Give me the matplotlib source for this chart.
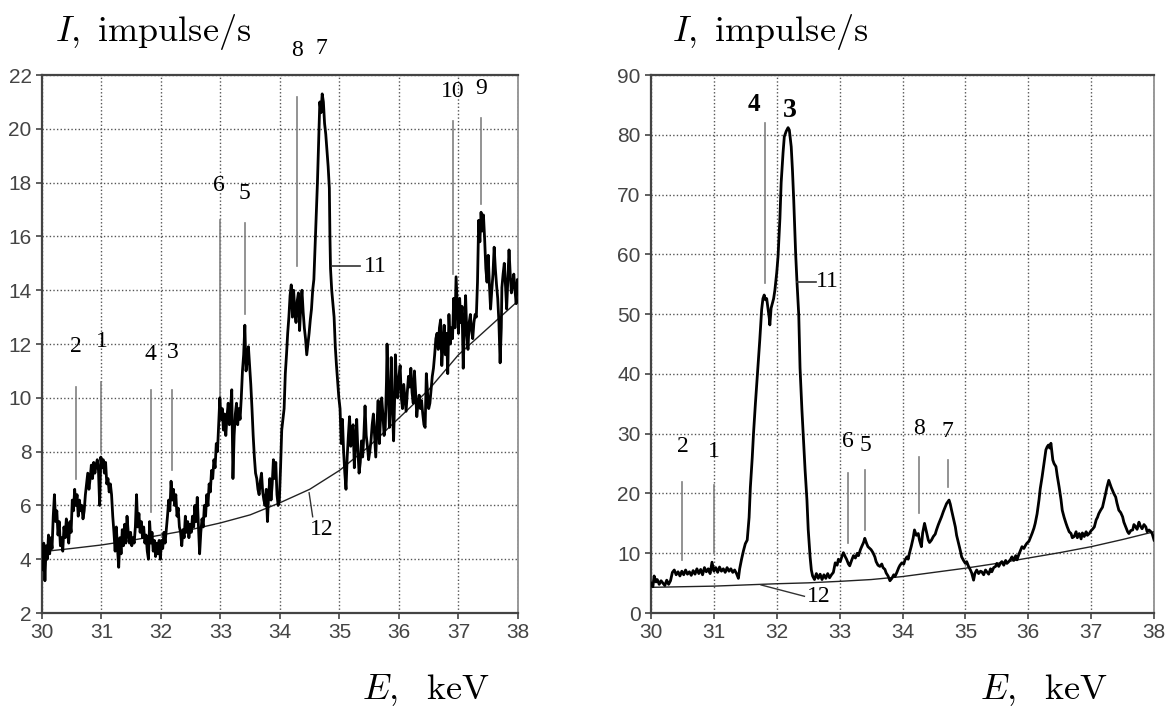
import numpy as np
import matplotlib.pyplot as plt

plt.rcParams['font.family'] = ['Liberation Sans Narrow', 'Liberation Sans', 'DejaVu Sans']
plt.rcParams['mathtext.fontset'] = 'cm'

# left spectrum (E keV, I impulse/s)
left_spec = [
    (30.00, 4.3), (30.02, 3.6), (30.03, 4.6), (30.05, 3.2), (30.07, 4.5), (30.09, 4.0), (30.11, 4.9), (30.13, 4.2),
    (30.15, 4.8), (30.17, 4.4), (30.19, 5.6), (30.21, 6.4), (30.23, 5.4), (30.25, 5.8), (30.27, 4.9), (30.29, 5.4),
    (30.31, 4.5), (30.33, 4.8), (30.35, 4.3), (30.37, 5.2), (30.39, 4.8), (30.41, 5.5), (30.43, 5.0), (30.45, 4.6),
    (30.47, 5.4), (30.49, 5.0), (30.51, 6.2), (30.53, 5.8), (30.55, 6.6), (30.57, 6.0), (30.59, 6.4), (30.61, 5.6),
    (30.63, 6.2), (30.65, 5.8), (30.67, 6.0), (30.69, 5.5), (30.71, 5.8), (30.73, 6.4), (30.75, 6.8), (30.77, 7.2),
    (30.79, 6.6), (30.81, 7.0), (30.83, 7.5), (30.85, 7.0), (30.87, 7.6), (30.89, 7.2), (30.91, 7.5), (30.93, 7.7),
    (30.95, 7.3), (30.97, 6.0), (30.99, 7.8), (31.01, 7.4), (31.03, 7.7), (31.05, 7.2), (31.07, 7.6), (31.09, 6.8),
    (31.11, 7.0), (31.13, 6.5), (31.15, 6.8), (31.17, 6.4), (31.19, 5.6), (31.21, 5.0), (31.23, 4.3), (31.25, 5.2),
    (31.27, 4.4), (31.29, 3.7), (31.31, 4.8), (31.33, 4.2), (31.35, 5.1), (31.37, 4.5), (31.39, 5.3), (31.41, 4.6),
    (31.43, 5.6), (31.45, 5.0), (31.47, 4.6), (31.49, 5.0), (31.51, 4.5), (31.53, 4.8), (31.55, 4.6), (31.57, 5.2),
    (31.59, 6.4), (31.61, 5.2), (31.63, 5.7), (31.65, 5.0), (31.67, 5.4), (31.69, 4.8), (31.71, 5.2), (31.73, 4.6),
    (31.75, 4.9), (31.77, 4.3), (31.79, 4.0), (31.81, 5.4), (31.83, 4.6), (31.85, 5.0), (31.87, 4.3), (31.89, 4.7),
    (31.91, 4.1), (31.93, 4.6), (31.95, 4.2), (31.97, 4.7), (31.99, 4.0), (32.01, 4.7), (32.03, 4.4), (32.05, 5.0),
    (32.07, 4.6), (32.09, 5.1), (32.11, 5.6), (32.13, 6.2), (32.15, 5.8), (32.17, 6.9), (32.19, 6.2), (32.21, 6.6),
    (32.23, 6.0), (32.25, 6.4), (32.27, 5.6), (32.29, 5.9), (32.31, 5.2), (32.33, 5.0), (32.35, 4.5), (32.37, 5.1),
    (32.39, 4.8), (32.41, 5.6), (32.43, 5.0), (32.45, 5.4), (32.47, 4.8), (32.49, 5.3), (32.51, 5.0), (32.53, 5.6),
    (32.55, 5.2), (32.57, 6.0), (32.59, 5.4), (32.61, 6.3), (32.63, 5.2), (32.65, 4.2), (32.67, 5.0), (32.69, 5.5),
    (32.71, 5.2), (32.73, 6.0), (32.75, 5.6), (32.77, 6.4), (32.79, 6.0), (32.81, 6.8), (32.83, 6.5), (32.85, 7.3),
    (32.87, 7.0), (32.89, 7.7), (32.91, 7.4), (32.93, 8.3), (32.95, 8.0), (32.97, 9.0), (32.99, 10.0), (33.01, 9.2),
    (33.03, 9.6), (33.05, 8.8), (33.07, 9.4), (33.09, 8.6), (33.11, 9.3), (33.13, 9.8), (33.15, 9.0), (33.17, 9.6),
    (33.19, 10.3), (33.21, 7.0), (33.23, 8.6), (33.25, 9.4), (33.27, 9.8), (33.29, 9.0), (33.31, 9.6), (33.33, 9.2),
    (33.35, 10.0), (33.37, 11.0), (33.39, 11.6), (33.41, 12.7), (33.43, 11.0), (33.45, 11.4), (33.47, 11.9), (33.49, 11.2),
    (33.51, 10.5), (33.53, 9.6), (33.55, 8.6), (33.57, 7.8), (33.59, 7.2), (33.61, 7.0), (33.63, 6.6), (33.65, 6.4),
    (33.67, 6.9), (33.69, 7.2), (33.71, 6.5), (33.73, 6.2), (33.75, 6.0), (33.77, 6.6), (33.79, 5.4), (33.81, 6.4),
    (33.83, 7.0), (33.85, 6.2), (33.87, 6.8), (33.89, 7.7), (33.91, 7.0), (33.93, 7.6), (33.95, 6.4), (33.97, 6.0),
    (33.99, 6.2), (34.01, 7.4), (34.03, 8.8), (34.05, 9.2), (34.07, 9.6), (34.09, 10.9), (34.11, 11.6), (34.13, 12.4),
    (34.15, 13.0), (34.17, 13.8), (34.19, 14.2), (34.21, 13.0), (34.23, 14.0), (34.25, 13.2), (34.27, 12.8), (34.29, 13.6),
    (34.31, 13.9), (34.33, 12.5), (34.35, 13.4), (34.37, 14.0), (34.39, 13.2), (34.41, 12.6), (34.43, 12.2), (34.45, 11.6),
    (34.47, 12.0), (34.49, 12.4), (34.51, 12.9), (34.53, 13.3), (34.55, 14.0), (34.57, 14.4), (34.59, 15.6), (34.61, 16.8),
    (34.63, 18.0), (34.65, 19.5), (34.67, 21.0), (34.69, 20.6), (34.71, 21.3), (34.73, 21.0), (34.75, 20.2), (34.77, 19.8),
    (34.79, 19.2), (34.81, 18.6), (34.83, 17.8), (34.84, 16.0), (34.85, 14.8), (34.87, 14.0), (34.89, 13.5), (34.91, 13.0),
    (34.93, 11.9), (34.95, 11.2), (34.97, 10.6), (34.99, 10.0), (35.01, 9.6), (35.03, 8.3), (35.05, 9.2), (35.07, 8.0),
    (35.09, 7.2), (35.11, 6.6), (35.13, 7.8), (35.15, 8.6), (35.17, 9.3), (35.19, 8.2), (35.21, 8.8), (35.23, 9.0),
    (35.25, 7.4), (35.27, 8.4), (35.29, 9.2), (35.31, 8.0), (35.33, 7.2), (35.35, 7.6), (35.37, 8.4), (35.39, 7.8),
    (35.41, 8.6), (35.43, 9.7), (35.45, 8.6), (35.47, 8.2), (35.49, 7.7), (35.51, 8.0), (35.53, 8.4), (35.55, 9.0),
    (35.57, 9.4), (35.59, 8.6), (35.61, 7.8), (35.63, 9.0), (35.65, 9.9), (35.67, 8.3), (35.69, 9.2), (35.71, 10.0),
    (35.73, 9.4), (35.75, 8.6), (35.77, 8.9), (35.79, 10.6), (35.80, 12.0), (35.82, 10.2), (35.84, 8.9), (35.86, 10.4),
    (35.87, 11.5), (35.89, 9.6), (35.91, 8.4), (35.93, 10.2), (35.94, 11.6), (35.96, 10.4), (35.98, 10.0), (36.00, 10.8),
    (36.02, 11.2), (36.04, 10.0), (36.06, 9.6), (36.08, 10.5), (36.10, 10.0), (36.12, 9.5), (36.14, 10.2), (36.16, 10.8),
    (36.18, 10.4), (36.20, 11.1), (36.22, 10.2), (36.24, 9.8), (36.26, 11.0), (36.28, 10.2), (36.30, 9.3), (36.32, 9.8),
    (36.34, 10.1), (36.36, 9.6), (36.38, 9.9), (36.40, 9.4), (36.42, 9.0), (36.44, 8.9), (36.46, 10.9), (36.48, 10.2),
    (36.50, 9.6), (36.52, 9.8), (36.54, 10.3), (36.56, 10.8), (36.58, 11.1), (36.60, 11.6), (36.62, 12.2), (36.64, 12.4),
    (36.66, 11.8), (36.68, 12.6), (36.70, 12.9), (36.72, 11.2), (36.74, 12.0), (36.76, 12.7), (36.78, 11.6), (36.80, 12.4),
    (36.82, 10.9), (36.84, 13.1), (36.86, 12.0), (36.88, 12.6), (36.90, 12.2), (36.92, 13.7), (36.94, 12.6), (36.96, 14.5),
    (36.98, 13.4), (37.00, 12.4), (37.02, 13.7), (37.04, 12.8), (37.06, 13.4), (37.08, 11.1), (37.10, 12.6), (37.12, 13.8),
    (37.14, 12.4), (37.16, 11.8), (37.18, 12.8), (37.20, 13.1), (37.22, 12.5), (37.24, 12.2), (37.26, 12.8), (37.28, 13.1),
    (37.30, 13.0), (37.32, 14.3), (37.34, 16.6), (37.36, 15.8), (37.38, 16.9), (37.40, 16.2), (37.42, 16.8), (37.44, 15.9),
    (37.46, 14.8), (37.48, 14.3), (37.50, 15.3), (37.52, 14.2), (37.54, 13.3), (37.56, 14.0), (37.58, 14.6), (37.60, 15.6),
    (37.62, 14.8), (37.64, 14.2), (37.66, 13.7), (37.68, 12.8), (37.70, 11.3), (37.72, 12.6), (37.73, 14.1), (37.75, 14.6),
    (37.77, 15.0), (37.79, 14.2), (37.81, 13.3), (37.83, 14.4), (37.85, 15.5), (37.87, 14.6), (37.89, 13.9), (37.91, 14.2),
    (37.93, 14.6), (37.95, 14.0), (37.97, 13.5), (37.99, 14.4), (38.00, 14.2),
]

# right spectrum
right_spec = [
    (30.00, 5.0), (30.03, 4.4), (30.05, 6.2), (30.08, 5.2), (30.10, 5.6), (30.13, 4.8), (30.16, 5.4), (30.19, 5.0),
    (30.22, 4.6), (30.25, 5.5), (30.28, 4.8), (30.31, 5.4), (30.34, 6.8), (30.37, 7.2), (30.40, 6.4), (30.43, 6.9),
    (30.46, 6.2), (30.49, 7.0), (30.52, 6.4), (30.55, 7.2), (30.58, 6.5), (30.61, 6.9), (30.64, 6.3), (30.67, 7.1),
    (30.70, 6.5), (30.73, 7.4), (30.76, 6.6), (30.79, 7.3), (30.82, 6.4), (30.85, 7.6), (30.88, 6.9), (30.91, 7.4),
    (30.94, 6.6), (30.97, 8.5), (31.00, 7.0), (31.03, 7.6), (31.06, 6.8), (31.09, 7.7), (31.12, 7.0), (31.15, 7.4),
    (31.18, 6.8), (31.21, 7.6), (31.24, 7.0), (31.27, 7.4), (31.30, 6.8), (31.33, 7.2), (31.36, 6.6), (31.39, 5.8),
    (31.41, 7.4), (31.44, 9.0), (31.47, 10.4), (31.50, 11.6), (31.53, 12.2), (31.56, 16.0), (31.58, 21.0), (31.61, 26.0),
    (31.63, 30.0), (31.66, 35.0), (31.68, 38.0), (31.70, 41.0), (31.73, 45.7), (31.76, 50.8), (31.78, 52.6), (31.80, 53.2),
    (31.82, 52.4), (31.84, 52.6), (31.86, 51.0), (31.88, 49.4), (31.89, 48.2), (31.91, 51.0), (31.93, 51.8), (31.95, 52.6),
    (31.97, 54.0), (32.00, 57.0), (32.02, 59.6), (32.05, 66.0), (32.07, 72.0), (32.10, 77.0), (32.12, 79.7), (32.15, 80.6),
    (32.18, 81.2), (32.20, 80.8), (32.23, 78.0), (32.25, 74.0), (32.27, 69.0), (32.30, 60.2), (32.32, 55.7), (32.35, 49.8),
    (32.37, 41.0), (32.40, 34.0), (32.42, 30.0), (32.45, 24.0), (32.48, 18.9), (32.50, 14.0), (32.53, 9.4), (32.55, 7.2),
    (32.57, 6.2), (32.60, 5.6), (32.63, 6.6), (32.66, 5.8), (32.69, 6.5), (32.72, 5.6), (32.75, 6.4), (32.78, 5.8),
    (32.81, 6.6), (32.84, 5.9), (32.87, 6.4), (32.90, 6.8), (32.93, 8.4), (32.96, 8.0), (32.98, 9.0), (33.01, 8.6),
    (33.04, 9.6), (33.06, 10.1), (33.09, 9.4), (33.11, 9.0), (33.14, 8.2), (33.16, 7.9), (33.19, 8.8), (33.22, 9.6),
    (33.25, 9.2), (33.28, 10.0), (33.30, 9.6), (33.33, 10.6), (33.35, 11.1), (33.38, 11.8), (33.40, 12.5), (33.43, 11.6),
    (33.45, 11.1), (33.48, 10.8), (33.50, 10.6), (33.53, 10.1), (33.56, 9.4), (33.58, 8.6), (33.61, 8.0), (33.64, 7.8),
    (33.67, 8.2), (33.69, 7.6), (33.72, 7.3), (33.74, 6.7), (33.77, 6.2), (33.80, 5.4), (33.83, 5.8), (33.86, 6.4),
    (33.88, 6.1), (33.91, 6.8), (33.94, 7.6), (33.96, 8.0), (33.99, 8.4), (34.02, 8.2), (34.04, 8.9), (34.07, 9.4),
    (34.09, 9.0), (34.11, 10.0), (34.14, 11.2), (34.17, 12.6), (34.19, 13.9), (34.22, 13.0), (34.25, 13.3), (34.27, 12.2),
    (34.30, 11.1), (34.32, 13.4), (34.35, 15.0), (34.38, 13.6), (34.41, 12.2), (34.43, 11.8), (34.46, 12.2), (34.49, 12.8),
    (34.52, 13.2), (34.54, 13.9), (34.57, 14.8), (34.60, 15.6), (34.62, 16.1), (34.65, 17.0), (34.68, 17.8), (34.70, 18.3),
    (34.72, 18.6), (34.74, 18.9), (34.76, 18.2), (34.78, 17.2), (34.81, 15.8), (34.84, 14.4), (34.86, 13.0), (34.89, 11.7),
    (34.92, 10.4), (34.94, 9.4), (34.97, 8.8), (35.00, 8.3), (35.02, 8.6), (35.05, 7.8), (35.08, 7.2), (35.10, 6.7),
    (35.13, 5.5), (35.15, 6.6), (35.18, 7.2), (35.21, 6.6), (35.24, 7.0), (35.26, 6.9), (35.29, 6.4), (35.32, 7.2),
    (35.34, 6.9), (35.37, 6.5), (35.40, 7.4), (35.42, 6.9), (35.45, 7.6), (35.48, 7.8), (35.50, 8.3), (35.53, 7.8),
    (35.56, 8.4), (35.58, 8.6), (35.61, 8.0), (35.64, 8.8), (35.66, 8.3), (35.69, 8.6), (35.72, 9.0), (35.74, 9.4),
    (35.77, 8.8), (35.80, 9.6), (35.82, 8.9), (35.85, 9.8), (35.88, 10.6), (35.90, 11.1), (35.93, 10.8), (35.96, 11.4),
    (35.98, 11.7), (36.01, 12.0), (36.04, 12.8), (36.06, 13.3), (36.09, 14.2), (36.11, 15.0), (36.14, 16.6), (36.17, 18.9),
    (36.19, 20.8), (36.22, 22.8), (36.25, 25.0), (36.28, 27.3), (36.30, 27.8), (36.32, 28.1), (36.34, 27.6), (36.36, 28.4),
    (36.39, 25.6), (36.41, 25.0), (36.44, 24.5), (36.46, 23.0), (36.49, 21.1), (36.52, 19.0), (36.54, 17.2), (36.57, 16.0),
    (36.60, 15.0), (36.62, 14.4), (36.65, 13.6), (36.68, 13.3), (36.70, 12.6), (36.73, 12.8), (36.76, 13.6), (36.78, 12.6),
    (36.81, 13.3), (36.84, 12.4), (36.86, 13.4), (36.89, 12.8), (36.92, 13.6), (36.94, 13.0), (36.97, 13.3), (37.00, 13.8),
    (37.02, 14.0), (37.05, 14.4), (37.08, 15.6), (37.10, 16.0), (37.12, 16.6), (37.15, 17.2), (37.18, 17.7), (37.20, 18.6),
    (37.23, 20.0), (37.25, 21.0), (37.28, 22.2), (37.30, 21.6), (37.32, 21.0), (37.34, 20.5), (37.36, 20.0), (37.39, 19.4),
    (37.41, 18.4), (37.44, 17.2), (37.47, 16.8), (37.50, 16.1), (37.52, 15.2), (37.55, 14.4), (37.58, 13.6), (37.60, 13.3),
    (37.63, 13.8), (37.66, 13.9), (37.68, 14.8), (37.71, 14.4), (37.73, 14.0), (37.76, 15.2), (37.78, 14.6), (37.81, 14.1),
    (37.84, 14.8), (37.87, 14.4), (37.89, 13.6), (37.92, 13.9), (37.95, 13.6), (37.97, 13.3), (38.00, 12.2),
]

# background curves (12)
base_e = [30, 30.5, 31, 31.5, 32, 32.5, 33, 33.5, 34, 34.5, 35, 35.5, 36, 36.5, 37, 37.5, 38]
left_base = [4.28, 4.4, 4.53, 4.7, 4.9, 5.1, 5.35, 5.65, 6.1, 6.6, 7.3, 8.2, 9.25, 10.3, 11.6, 12.6, 13.6]
right_base = [4.3, 4.4, 4.5, 4.7, 4.9, 5.05, 5.3, 5.6, 6.1, 6.8, 7.5, 8.3, 9.2, 10.1, 11.1, 12.3, 13.6]

# peak markers: (label, x of label, y of label, x of line, y0, y1)
left_marks = [
    ('2', 30.57, 11.9, 30.57, 7.0, 10.4),
    ('1', 31.0, 12.1, 31.0, 8.0, 10.6),
    ('4', 31.83, 11.6, 31.83, 5.75, 10.3),
    ('3', 32.19, 11.7, 32.19, 7.3, 10.3),
    ('6', 32.97, 17.9, 32.99, 10.0, 16.6),
    ('5', 33.41, 17.6, 33.41, 13.1, 16.5),
    ('8', 34.29, 22.9, 34.29, 14.9, 21.2),
    ('7', 34.70, 23.0, None, 0, 0),
    ('10', 36.90, 21.4, 36.90, 14.6, 20.3),
    ('9', 37.38, 21.5, 37.38, 17.2, 20.4),
]
right_marks = [
    ('2', 30.5, 27.8, 30.5, 8.9, 22.0),
    ('1', 31.0, 27.0, 31.0, 10.0, 21.4),
    ('6', 33.13, 28.7, 33.13, 11.7, 23.4),
    ('5', 33.41, 28.1, 33.41, 13.9, 23.9),
    ('8', 34.26, 30.9, 34.26, 16.7, 26.1),
    ('7', 34.72, 30.3, 34.72, 21.1, 25.6),
]

fig = plt.figure(figsize=(11.65, 7.12), dpi=100)
ax1 = fig.add_axes([0.036, 0.139, 0.4086, 0.7556])
ax2 = fig.add_axes([0.5588, 0.139, 0.4318, 0.7556])

serif = ['Liberation Serif', 'DejaVu Serif']

for ax in (ax1, ax2):
    ax.set_xlim(30, 38)
    ax.set_xticks(range(30, 39))
    ax.grid(True, color='#555555', linestyle=(0, (1, 1.6)), linewidth=1.0)
    ax.tick_params(labelsize=15, labelcolor='#444444', color='#444444', length=4, width=1.2)
    for s in ('left', 'bottom', 'top'):
        ax.spines[s].set_color('#444444')
        ax.spines[s].set_linewidth(1.6)
    ax.spines['right'].set_color('#888888')
    ax.spines['right'].set_linewidth(1.2)

ax1.set_ylim(2, 22)
ax1.set_yticks(range(2, 23, 2))
ax2.set_ylim(0, 90)
ax2.set_yticks(range(0, 91, 10))

le, li = zip(*left_spec)
re, ri = zip(*right_spec)
ax1.plot(base_e, left_base, color='#222222', lw=1.0, zorder=3)
ax1.plot(le, li, color='black', lw=2.0, zorder=4)
ax2.plot(base_e, right_base, color='#222222', lw=1.0, zorder=3)
ax2.plot(re, ri, color='black', lw=2.0, zorder=4)

for ax, marks in ((ax1, left_marks), (ax2, right_marks)):
    for lab, tx, ty, lx, y0, y1 in marks:
        ax.text(tx, ty, lab, ha='center', va='center', fontsize=17, family=serif,
                clip_on=False, zorder=5)
        if lx is not None:
            ax.plot([lx, lx], [y0, y1], color='#808080', lw=1.2, zorder=2)

# bold labels of the main doublet on the right
ax2.text(31.63, 85.0, '4', ha='center', va='center', fontsize=18, fontweight='bold', family=serif)
ax2.text(32.21, 84.1, '3', ha='center', va='center', fontsize=20, fontweight='bold', family=serif)
ax2.plot([31.81, 31.81], [55.2, 81.9], color='#808080', lw=1.2, zorder=2)

# leaders for curve 11 and background 12
ax1.plot([34.87, 35.34], [14.9, 14.9], color='#333333', lw=1.2, zorder=5)
ax1.text(35.61, 14.9, '11', ha='center', va='center', fontsize=17, family=serif)
ax1.plot([34.49, 34.55], [6.47, 5.58], color='#333333', lw=1.0, zorder=5)
ax1.text(34.70, 5.09, '12', ha='center', va='center', fontsize=17, family=serif)

ax2.plot([32.32, 32.63], [55.4, 55.4], color='#333333', lw=1.2, zorder=5)
ax2.text(32.80, 55.4, '11', ha='center', va='center', fontsize=17, family=serif)
ax2.plot([31.75, 32.44], [4.7, 2.8], color='#333333', lw=1.0, zorder=5)
ax2.text(32.66, 2.7, '12', ha='center', va='center', fontsize=17, family=serif)

# axis titles
fig.text(0.047, 0.955, r'$I,\ \mathrm{impulse/s}$', fontsize=26, ha='left', va='center')
fig.text(0.577, 0.955, r'$I,\ \mathrm{impulse/s}$', fontsize=26, ha='left', va='center')
fig.text(0.365, 0.031, r'$E,\ \ \mathrm{keV}$', fontsize=26, ha='center', va='center')
fig.text(0.896, 0.031, r'$E,\ \ \mathrm{keV}$', fontsize=26, ha='center', va='center')

fig.savefig('out.png', dpi=100)
